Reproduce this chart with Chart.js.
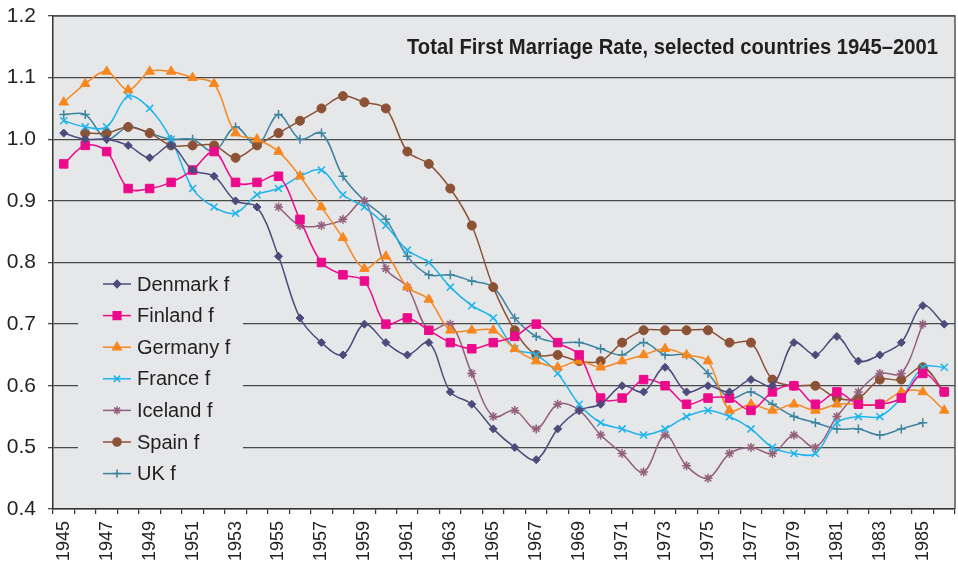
<!DOCTYPE html>
<html>
<head>
<meta charset="utf-8">
<title>Total First Marriage Rate</title>
<script src="https://cdn.jsdelivr.net/npm/chart.js@4"></script>
<style>
    body { margin: 0; background: #ffffff; }
    #wrap { width: 958px; height: 565px; }
    canvas { display: block; }
</style>
</head>
<body>
<div id="wrap"><canvas id="tfmr" width="958" height="565"></canvas></div>
<script>
// Years on the category axis
const years = [];
for (let y = 1945; y <= 1986; y++) years.push(String(y));

// Series values
const denmark = [1.01, 1.00, 1.00, 0.99, 0.97, 0.99, 0.95, 0.94, 0.90, 0.89,
    0.81, 0.71, 0.67, 0.65, 0.70, 0.67, 0.65, 0.67, 0.59, 0.57,
    0.53, 0.50, 0.48, 0.53, 0.56, 0.57, 0.60, 0.59, 0.63, 0.59,
    0.60, 0.59, 0.61, 0.60, 0.67, 0.65, 0.68, 0.64, 0.65, 0.67,
    0.73, 0.70];
const finland = [0.96, 0.99, 0.98, 0.92, 0.92, 0.93, 0.95, 0.98, 0.93, 0.93,
    0.94, 0.87, 0.80, 0.78, 0.77, 0.70, 0.71, 0.69, 0.67, 0.66,
    0.67, 0.68, 0.70, 0.67, 0.65, 0.58, 0.58, 0.61, 0.60, 0.57,
    0.58, 0.58, 0.56, 0.59, 0.60, 0.57, 0.59, 0.57, 0.57, 0.58,
    0.62, 0.59];
const germany = [1.06, 1.09, 1.11, 1.08, 1.11, 1.11, 1.10, 1.09, 1.01, 1.00,
    0.98, 0.94, 0.89, 0.84, 0.79, 0.81, 0.76, 0.74, 0.69, 0.69,
    0.69, 0.66, 0.64, 0.63, 0.64, 0.63, 0.64, 0.65, 0.66, 0.65,
    0.64, 0.56, 0.57, 0.56, 0.57, 0.56, 0.57, 0.57, 0.57, 0.59,
    0.59, 0.56];
const france = [1.03, 1.02, 1.02, 1.07, 1.05, 1.00, 0.92, 0.89, 0.88, 0.91,
    0.92, 0.94, 0.95, 0.91, 0.89, 0.86, 0.82, 0.80, 0.76, 0.73,
    0.71, 0.66, 0.65, 0.62, 0.57, 0.54, 0.53, 0.52, 0.53, 0.55,
    0.56, 0.55, 0.53, 0.50, 0.49, 0.49, 0.54, 0.55, 0.55, 0.58,
    0.63, 0.63];
const iceland = [null, null, null, null, null, null, null, null, null, null,
    0.89, 0.86, 0.86, 0.87, 0.90, 0.79, 0.76, 0.69, 0.70, 0.62,
    0.55, 0.56, 0.53, 0.57, 0.56, 0.52, 0.49, 0.46, 0.52, 0.47,
    0.45, 0.49, 0.50, 0.49, 0.52, 0.50, 0.55, 0.59, 0.62, 0.62,
    0.70, null];
const spain = [null, 1.01, 1.01, 1.02, 1.01, 0.99, 0.99, 0.99, 0.97, 0.99,
    1.01, 1.03, 1.05, 1.07, 1.06, 1.05, 0.98, 0.96, 0.92, 0.86,
    0.76, 0.69, 0.65, 0.65, 0.64, 0.64, 0.67, 0.69, 0.69, 0.69,
    0.69, 0.67, 0.67, 0.61, 0.60, 0.60, 0.58, 0.58, 0.61, 0.61,
    0.63, 0.59];
const uk = [1.04, 1.04, 1.00, 1.02, 1.01, 1.00, 1.00, 0.98, 1.02, 0.99,
    1.04, 1.00, 1.01, 0.94, 0.90, 0.87, 0.81, 0.78, 0.78, 0.77,
    0.76, 0.71, 0.68, 0.67, 0.67, 0.66, 0.65, 0.67, 0.65, 0.65,
    0.62, 0.58, 0.59, 0.57, 0.55, 0.54, 0.53, 0.53, 0.52, 0.53,
    0.54, null];

const seriesNames = ['Denmark f', 'Finland f', 'Germany f', 'France f', 'Iceland f', 'Spain f', 'UK f'];
const seriesValues = [denmark, finland, germany, france, iceland, spain, uk];
const seriesColors = ['#4d4b7c', '#ec0a8c', '#f7871f', '#1db4ec', '#93607c', '#8c5236', '#3c84a0'];
const seriesMarkers = ['rectRot', 'rect', 'triangle', 'crossRot', 'star', 'circle', 'cross'];
const markerSizes = [4, 6, 5.5, 5, 4.5, 4.5, 4.5];

const titleText = 'Total First Marriage Rate, selected countries 1945\u20132001';
const fontFamily = '"Liberation Sans", Arial, Helvetica, sans-serif';
const plotColor = '#e6e7e9';

// Build the datasets from the arrays above
const datasets = seriesNames.map((name, i) => ({
    label: name,
    data: seriesValues[i],
    borderColor: seriesColors[i],
    backgroundColor: seriesColors[i],
    borderWidth: 1.5,
    tension: 0.35,
    pointStyle: seriesMarkers[i],
    pointRadius: markerSizes[i],
    pointBorderWidth: (seriesMarkers[i] === 'crossRot' || seriesMarkers[i] === 'cross' || seriesMarkers[i] === 'star') ? 1.5 : 1,
    pointBackgroundColor: seriesColors[i],
    pointBorderColor: seriesColors[i],
}));

// Grey plot area behind everything
const plotBackground = {
    id: 'plotBackground',
    beforeDraw(chart) {
        const { ctx, chartArea: a } = chart;
        ctx.save();
        ctx.fillStyle = plotColor;
        ctx.fillRect(a.left, a.top, a.right - a.left, a.bottom - a.top);
        ctx.restore();
    },
    afterDraw(chart) {
        const { ctx, chartArea: a } = chart;
        ctx.save();
        // Top and right border of the plot area
        ctx.strokeStyle = '#555';
        ctx.lineWidth = 1.5;
        ctx.beginPath();
        ctx.moveTo(a.left, a.top);
        ctx.lineTo(a.right, a.top);
        ctx.lineTo(a.right, a.bottom);
        ctx.stroke();
        // Title, right aligned inside the plot
        ctx.font = 'bold 22px ' + fontFamily;
        ctx.fillStyle = '#231f20';
        ctx.textAlign = 'right';
        ctx.textBaseline = 'alphabetic';
        const w = ctx.measureText(titleText).width;
        const target = 531;
        ctx.translate(938, 54);
        ctx.scale(Math.min(1, target / w), 1);
        ctx.fillText(titleText, 0, 0);
        ctx.restore();
    }
};

// Legend drawn inside the plot area, with a box that hides the gridlines
const insideLegend = {
    id: 'insideLegend',
    afterDatasetsDraw(chart) {
        const ctx = chart.ctx;
        ctx.save();
        ctx.fillStyle = plotColor;
        ctx.fillRect(78, 267, 165, 220);
        ctx.font = '20px ' + fontFamily;
        ctx.textBaseline = 'middle';
        ctx.textAlign = 'left';
        chart.data.datasets.forEach((ds, i) => {
            const y = 284 + i * 31.6;
            ctx.strokeStyle = ds.borderColor;
            ctx.fillStyle = ds.borderColor;
            ctx.lineWidth = 1.5;
            ctx.beginPath();
            ctx.moveTo(103, y);
            ctx.lineTo(131, y);
            ctx.stroke();
            Chart.helpers.drawPoint(ctx, {
                pointStyle: ds.pointStyle,
                rotation: 0,
                radius: ds.pointRadius * 0.9,
                borderWidth: ds.pointBorderWidth
            }, 117, y);
            ctx.fillStyle = '#231f20';
            ctx.fillText(ds.label, 137, y + 1);
        });
        ctx.restore();
    }
};

const ctx = document.getElementById('tfmr').getContext('2d');
const chart = new Chart(ctx, {
    type: 'line',
    data: {
        labels: years,
        datasets: datasets,
    },
    plugins: [plotBackground, insideLegend],
    options: {
        responsive: false,
        animation: false,
        layout: {
            autoPadding: false,
            padding: { top: 16, right: 3, left: 0, bottom: 0 }
        },
        plugins: {
            legend: { display: false },
            tooltip: { enabled: false },
        },
        scales: {
            x: {
                type: 'category',
                offset: true,
                grid: {
                    offset: true,
                    drawOnChartArea: false,
                    drawTicks: true,
                    tickLength: 5,
                    color: '#333',
                    lineWidth: 1.2,
                },
                border: { color: '#333', width: 1.5 },
                ticks: {
                    autoSkip: false,
                    maxRotation: 90,
                    minRotation: 90,
                    padding: 7,
                    color: '#231f20',
                    font: { size: 18, family: fontFamily },
                    callback: (value, index) => (index % 2 === 0 ? years[index] : ''),
                },
                afterFit: (scale) => {
                    scale.height = 56;
                    scale.paddingLeft = 0;
                    scale.paddingRight = 0;
                },
            },
            y: {
                min: 0.4,
                max: 1.2,
                grid: {
                    color: '#4a4a4a',
                    lineWidth: 1.3,
                    drawTicks: true,
                    tickLength: 5,
                },
                border: { color: '#333', width: 1.5 },
                ticks: {
                    stepSize: 0.1,
                    padding: 12,
                    color: '#231f20',
                    font: { size: 21, family: fontFamily },
                    callback: (value) => Number(value).toFixed(1),
                },
                afterFit: (scale) => {
                    scale.width = 53;
                    scale.paddingTop = 0;
                    scale.paddingBottom = 0;
                },
            },
        },
    },
});
</script>
</body>
</html>
